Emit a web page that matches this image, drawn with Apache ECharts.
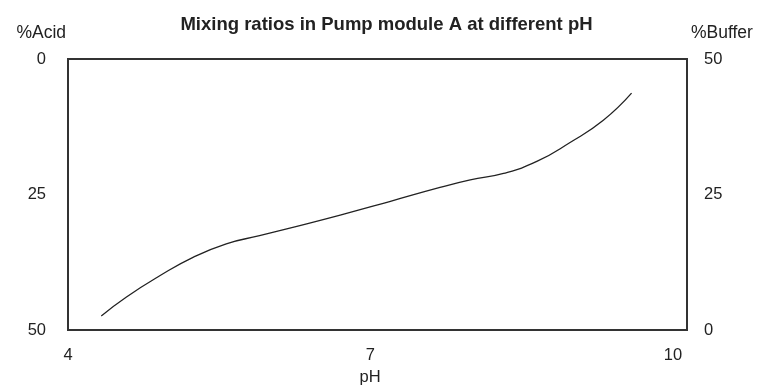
<!DOCTYPE html>
<html>
<head>
<meta charset="utf-8">
<script src="https://cdn.jsdelivr.net/npm/echarts@6/dist/echarts.min.js"></script>
<style>
  html, body { margin: 0; padding: 0; background: #fff; }
  #chart { width: 773px; height: 388px; }
</style>
</head>
<body>
<div id="chart"></div>
<script>
// pH values along the curve
const phValues = [4.33, 4.58, 4.91, 5.24, 5.57, 5.90, 6.20, 6.70, 7.19, 7.69, 7.99, 8.32, 8.65, 8.98, 9.31, 9.59];
// %Acid at each pH (the buffer share is read on the right axis as 50 - acid)
const acidPercent = [47.4, 43.9, 40.0, 36.6, 34.1, 32.6, 31.2, 28.8, 26.3, 23.7, 22.3, 21.1, 18.9, 15.4, 11.3, 6.3];
// labelled pH ticks
const phTicks = [4, 7, 10];

const font = 'Liberation Sans, Arial, sans-serif';
const textColor = '#222';

const chart = echarts.init(document.getElementById('chart'), null, { renderer: 'canvas' });

chart.setOption({
  animation: false,
  backgroundColor: '#fff',
  title: {
    text: 'Mixing ratios in Pump module A at different pH',
    left: 'center',
    top: 10,
    textStyle: { fontFamily: font, fontSize: 18.5, fontWeight: 'bold', color: textColor }
  },
  grid: {
    left: 68, right: 86, top: 59, bottom: 58,
    outerBoundsMode: 'none',
    containLabel: false,
    show: true, borderColor: '#333', borderWidth: 2, backgroundColor: 'transparent'
  },
  xAxis: {
    type: 'value',
    min: 4,
    max: 10.14,
    name: 'pH',
    nameLocation: 'middle',
    nameGap: 35,
    nameTextStyle: { fontFamily: font, fontSize: 16.5, color: textColor, padding: [0, 15, 0, 0] },
    axisLine: { show: false },
    axisTick: { show: false },
    splitLine: { show: false },
    axisLabel: {
      customValues: phTicks,
      margin: 17,
      fontFamily: font, fontSize: 16.5, color: textColor
    }
  },
  yAxis: [
    {
      type: 'value',
      min: 0, max: 50, interval: 25,
      inverse: true,
      position: 'left',
      name: '%Acid',
      nameLocation: 'start',
      nameGap: 17,
      nameTextStyle: { fontFamily: font, fontSize: 17.5, color: textColor, align: 'right', padding: [0, 2, 0, 0] },
      axisLine: { show: false },
      axisTick: { show: false },
      splitLine: { show: false },
      axisLabel: { margin: 22, fontFamily: font, fontSize: 16.5, color: textColor }
    },
    {
      type: 'value',
      min: 0, max: 50, interval: 25,
      position: 'right',
      name: '%Buffer',
      nameLocation: 'end',
      nameGap: 17,
      nameTextStyle: { fontFamily: font, fontSize: 17.5, color: textColor, align: 'left', padding: [0, 0, 0, 4] },
      axisLine: { show: false },
      axisTick: { show: false },
      splitLine: { show: false },
      axisLabel: { margin: 17, fontFamily: font, fontSize: 16.5, color: textColor }
    }
  ],
  series: [
    {
      type: 'line',
      yAxisIndex: 0,
      data: phValues.map((p, i) => [p, acidPercent[i]]),
      smooth: 0.5,
      showSymbol: false,
      lineStyle: { color: '#222', width: 1.3 }
    }
  ]
});
</script>
</body>
</html>
